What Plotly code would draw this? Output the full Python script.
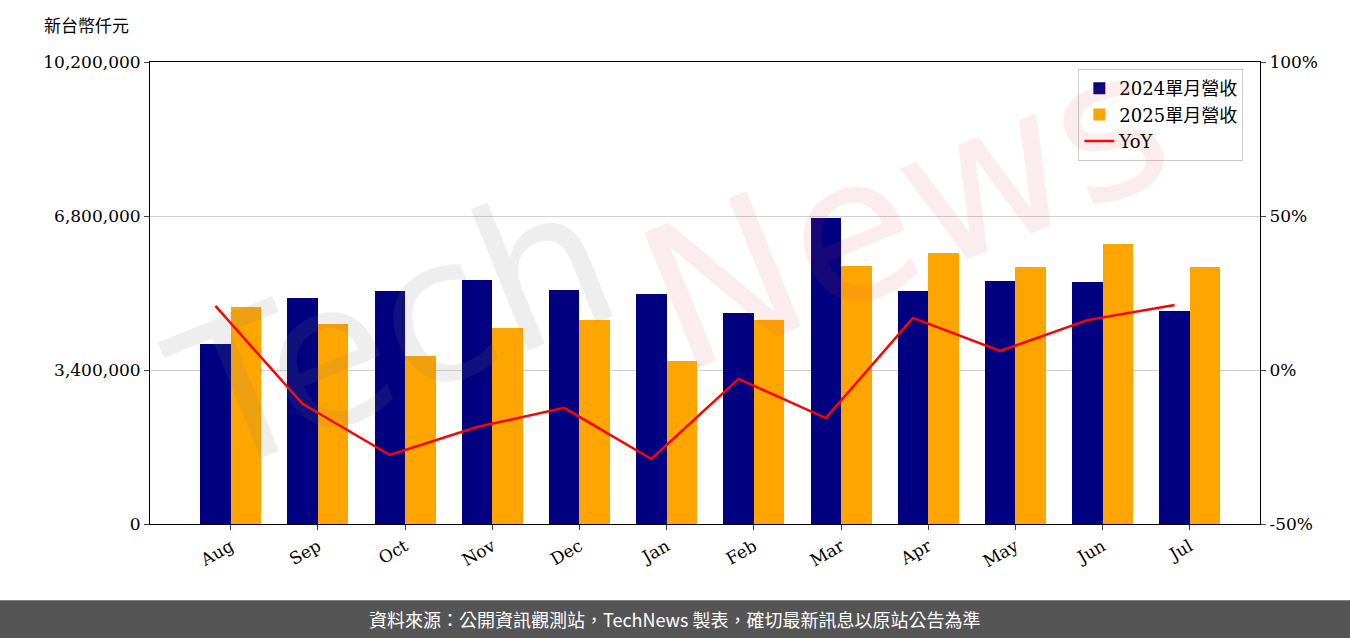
import plotly.graph_objects as go

months = ['Aug', 'Sep', 'Oct', 'Nov', 'Dec', 'Jan', 'Feb', 'Mar', 'Apr', 'May', 'Jun', 'Jul']
rev_2024 = [3970000, 4990000, 5140000, 5390000, 5170000, 5080000, 4660000, 6750000, 5140000, 5360000, 5340000, 4700000]
rev_2025 = [4790000, 4420000, 3710000, 4330000, 4500000, 3600000, 4500000, 5700000, 5980000, 5670000, 6180000, 5670000]
yoy = [20.8, -11.0, -27.6, -18.5, -12.3, -28.9, -2.9, -15.6, 16.9, 6.2, 16.2, 21.1]
yoy_ticks = [-50, 0, 50, 100]

FONT = "DejaVu Serif, Noto Sans CJK TC"
W = 0.35
x = list(range(len(months)))

fig = go.Figure()
fig.add_trace(go.Bar(x=x, y=rev_2024, width=W, marker_color='#000080',
                     marker_line_width=0, name='2024單月營收'))
fig.add_trace(go.Bar(x=[i + W for i in x], y=rev_2025, width=W, marker_color='#FFA500',
                     marker_line_width=0, name='2025單月營收'))
fig.add_trace(go.Scatter(x=x, y=yoy, mode='lines', line=dict(color='red', width=2.5),
                         name='YoY', yaxis='y2'))

# watermark
fig.add_annotation(text='Tech', xref='paper', yref='paper', x=0.22, y=0.42, showarrow=False,
                   xanchor='center', yanchor='middle', textangle=-22,
                   font=dict(size=200, color='rgba(120,120,120,0.13)', family='DejaVu Sans'))
fig.add_annotation(text='News', xref='paper', yref='paper', x=0.68, y=0.68, showarrow=False,
                   xanchor='center', yanchor='middle', textangle=-22,
                   font=dict(size=200, color='rgba(220,80,80,0.10)', family='DejaVu Sans'))

fig.add_annotation(text='新台幣仟元', xref='paper', yref='paper', x=-0.097, y=1.05,
                   xanchor='left', yanchor='bottom', showarrow=False,
                   font=dict(size=17, color='black', family='Noto Sans CJK TC'))

# footer
fig.add_shape(type='rect', xref='paper', yref='paper', x0=-0.2, x1=1.2, y0=-0.3, y1=-0.165,
              fillcolor='#555555', line_width=0, layer='below')
fig.add_annotation(text='資料來源：公開資訊觀測站，TechNews 製表，確切最新訊息以原站公告為準',
                   xref='paper', yref='paper', x=0.473, y=-0.206, showarrow=False,
                   xanchor='center', yanchor='middle',
                   font=dict(size=18, color='white', family='Noto Sans CJK TC'))

fig.update_layout(
    width=1350, height=638,
    margin=dict(l=150, r=90, t=62, b=114),
    plot_bgcolor='white', paper_bgcolor='white',
    font=dict(family=FONT, size=17, color='black'),
    bargap=0, showlegend=True,
    legend=dict(x=0.985, y=0.985, xanchor='right', yanchor='top', bordercolor='#cccccc',
                borderwidth=1, font=dict(size=18), bgcolor='rgba(255,255,255,0.8)'),
    xaxis=dict(tickmode='array', tickvals=[i + W / 2 for i in x], ticktext=months,
               tickangle=-30, range=[-0.75, 11.98], showgrid=False, showline=True,
               linecolor='black', mirror=True, ticks='outside', automargin=False),
    yaxis=dict(range=[0, 10200000], tickvals=[0, 3400000, 6800000, 10200000],
               tickformat=',d', showgrid=True, gridcolor='#d0d0d0', showline=True,
               linecolor='black', ticks='outside', zeroline=False, automargin=False),
    yaxis2=dict(overlaying='y', side='right', range=[-50, 100], tickmode='array',
                tickvals=yoy_ticks, ticktext=[f'{v}%' for v in yoy_ticks],
                showgrid=False, showline=True, linecolor='black',
                ticks='outside', zeroline=False, automargin=False),
)

fig.write_html("out.html", config={'displayModeBar': False},
               post_script="document.body.style.margin='0';")
